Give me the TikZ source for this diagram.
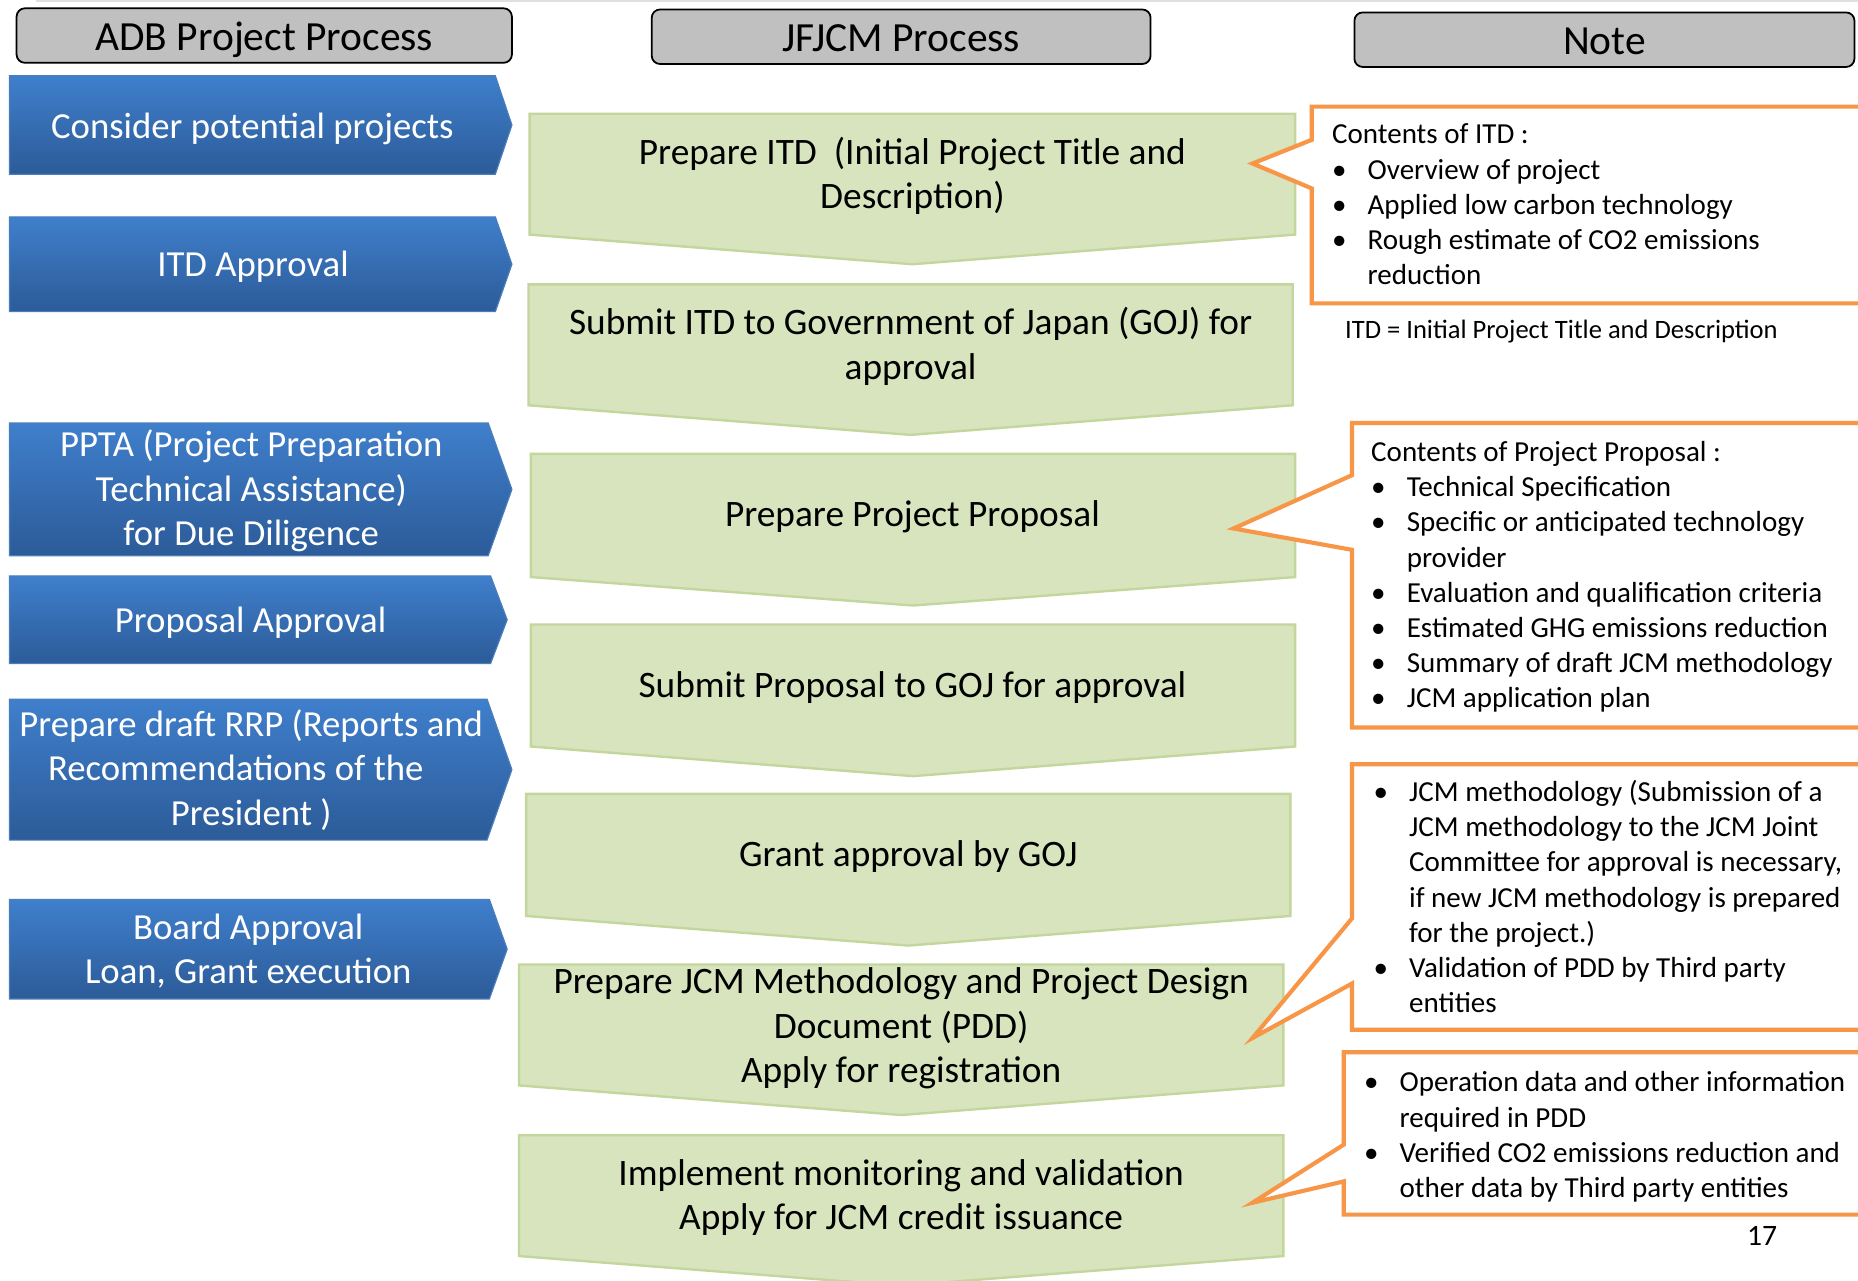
\documentclass[tikz,border=0pt]{standalone}
\usepackage{fontspec}
\setmainfont{Carlito}
\usepackage{array}
\definecolor{hdrgray}{HTML}{C0C0C0}
\definecolor{bluetop}{HTML}{3F7FCC}
\definecolor{bluebot}{HTML}{2C5B98}
\definecolor{blueedge}{HTML}{4A7EBB}
\definecolor{greenfill}{HTML}{D7E4BD}
\definecolor{greenedge}{HTML}{C3D69B}
\definecolor{noteorange}{HTML}{F79646}

% step shapes drawn as paths; text is placed in separate named nodes
\newcommand\bluestep[5]{% x-left, x-corner, x-tip, y-top, y-bottom
  \path[bluebox] (#1,#4) -- (#2,#4) -- (#3,{(#4+#5)/2}) -- (#2,#5) -- (#1,#5) -- cycle;}
\newcommand\greenstep[5]{% x-left, x-right, y-top, y-side, y-tip
  \path[greenbox] (#1,#3) -- (#2,#3) -- (#2,#4) -- ({(#1+#2)/2},#5) -- (#1,#4) -- cycle;}
\newcommand\notecallout[7]{% x-left, y-top, y-bottom, pointer top, pointer bottom, tip x, tip y
  \path[notebox] (#1,#2) -- (1600,#2) -- (1600,#3) -- (#1,#3) -- (#1,#5) -- (#6,#7) -- (#1,#4) -- cycle;}
\newcommand\stacklines[1]{\begin{tabular}[t]{@{}c@{}}#1\end{tabular}}
\newcommand\bul{•}

\begin{document}
\begin{tikzpicture}[x=1pt,y=-1pt,
  hdr/.style={draw=black, line width=1.5pt, fill=hdrgray, rounded corners=7pt,
    minimum height=46pt, inner sep=0pt, text height=30pt, text depth=5pt,
    font=\fontsize{35}{40}\selectfont},
  bluebox/.style={top color=bluetop, bottom color=bluebot, draw=blueedge, line width=1pt},
  greenbox/.style={fill=greenfill, draw=greenedge, line width=2pt},
  notebox/.style={fill=white, draw=noteorange, line width=3.5pt, line join=miter},
  bluetext/.style={anchor=base, inner sep=0pt, text=white, font=\fontsize{31}{37.5}\selectfont},
  greentext/.style={anchor=base, inner sep=0pt, text=black, font=\fontsize{31.5}{37.5}\selectfont},
  notetext/.style={anchor=base west, inner sep=0pt, text=black, font=\fontsize{24.5}{29.7}\selectfont}]
\clip (0,0) rectangle (1568,1081);
\fill[white] (0,0) rectangle (1568,1081);
\draw[black!12, line width=1pt] (30,0.8) -- (1568,0.8);

% column headers
\node[hdr, minimum width=418pt] (hadb) at (223,30) {ADB Project Process};
\node[hdr, minimum width=421pt] (hjf) at (760.5,31) {JFJCM Process};
\node[hdr, minimum width=422pt] (hnote) at (1354,33.5) {Note};

% ADB process steps
\bluestep{8}{418}{432}{64}{147}
\bluestep{8}{418}{432}{183}{263}
\bluestep{8}{412}{432}{357}{469}
\bluestep{8}{414}{428}{486}{560}
\bluestep{8}{411}{432}{590}{709}
\bluestep{8}{413}{428}{759}{843}
\node[bluetext] (a1) at (213,116.5) {Consider potential projects};
\node[bluetext] (a2) at (213.5,233.5) {ITD Approval};
\node[bluetext] (a3) at (212,385.5) {\stacklines{PPTA (Project Preparation\\Technical Assistance)\\for Due Diligence}};
\node[bluetext] (a4) at (211.5,533.5) {Proposal Approval};
\node[bluetext] (a5) at (212,621.5) {\stacklines{Prepare draft RRP (Reports and\\Recommendations of the\hspace*{26pt}\\President )}};
\node[bluetext] (a6) at (209.5,792.5) {\stacklines{Board Approval\\Loan, Grant execution}};

% JFJCM process steps
\greenstep{447}{1093}{96}{198}{223}
\greenstep{446}{1091}{240}{342}{367}
\greenstep{448}{1093}{383}{487}{511}
\greenstep{448}{1093}{527}{630}{655}
\greenstep{444}{1089}{670}{773}{798}
\greenstep{438}{1083}{814}{916}{941}
\greenstep{438}{1083}{958}{1060}{1085}
\node[greentext] (j1) at (770,138.5) {\stacklines{Prepare ITD\ \ (Initial Project Title and\\Description)}};
\node[greentext] (j2) at (768.5,282.5) {\stacklines{Submit ITD to Government of Japan (GOJ) for\\approval}};
\node[greentext] (j3) at (770,444.5) {Prepare Project Proposal};
\node[greentext] (j4) at (770,588.5) {Submit Proposal to GOJ for approval};
\node[greentext] (j5) at (766.5,731.5) {Grant approval by GOJ};
\node[greentext] (j6) at (760.5,838.5) {\stacklines{Prepare JCM Methodology and Project Design\\Document (PDD)\\Apply for registration}};
\node[greentext] (j7) at (760.5,1000.5) {\stacklines{Implement monitoring and validation\\Apply for JCM credit issuance}};

% notes
\notecallout{1107}{90}{256}{118}{159}{1057}{138}
\notecallout{1141}{357}{614}{401}{464}{1041}{446}
\notecallout{1141}{645}{869}{775}{830}{1057}{876}
\notecallout{1134}{888}{1025}{966}{997}{1057}{1015}

\node[notetext] (n1) at (1124,121.4) {\begin{tabular}[t]{@{}p{30pt}@{}l@{}}
\multicolumn{2}{@{}l@{}}{Contents of ITD :}\\
\bul & Overview of project\\
\bul & Applied low carbon technology\\
\bul & Rough estimate of CO2 emissions\\
 & reduction
\end{tabular}};
\node[anchor=base west, inner sep=0pt, font=\fontsize{22.4}{26}\selectfont] (itd) at (1135,285.6)
  {ITD = Initial Project Title and Description};

\node[notetext] (n2) at (1157,389.4) {\begin{tabular}[t]{@{}p{30pt}@{}l@{}}
\multicolumn{2}{@{}l@{}}{Contents of Project Proposal :}\\
\bul & Technical Specification\\
\bul & Specific or anticipated technology\\
 & provider\\
\bul & Evaluation and qualification criteria\\
\bul & Estimated GHG emissions reduction\\
\bul & Summary of draft JCM methodology\\
\bul & JCM application plan
\end{tabular}};

\node[notetext] (n3) at (1159,676.4) {\begin{tabular}[t]{@{}p{30pt}@{}l@{}}
\bul & JCM methodology (Submission of a\\
 & JCM methodology to the JCM Joint\\
 & Committee for approval is necessary,\\
 & if new JCM methodology is prepared\\
 & for the project.)\\
\bul & Validation of PDD by Third party\\
 & entities
\end{tabular}};

\node[notetext] (n4) at (1151,921.4) {\begin{tabular}[t]{@{}p{30pt}@{}l@{}}
\bul & Operation data and other information\\
 & required in PDD\\
\bul & Verified CO2 emissions reduction and\\
 & other data by Third party entities
\end{tabular}};

\node[anchor=base, inner sep=0pt, font=\fontsize{25}{30}\selectfont] (pg) at (1487,1051.5) {17};
\end{tikzpicture}
\end{document}
